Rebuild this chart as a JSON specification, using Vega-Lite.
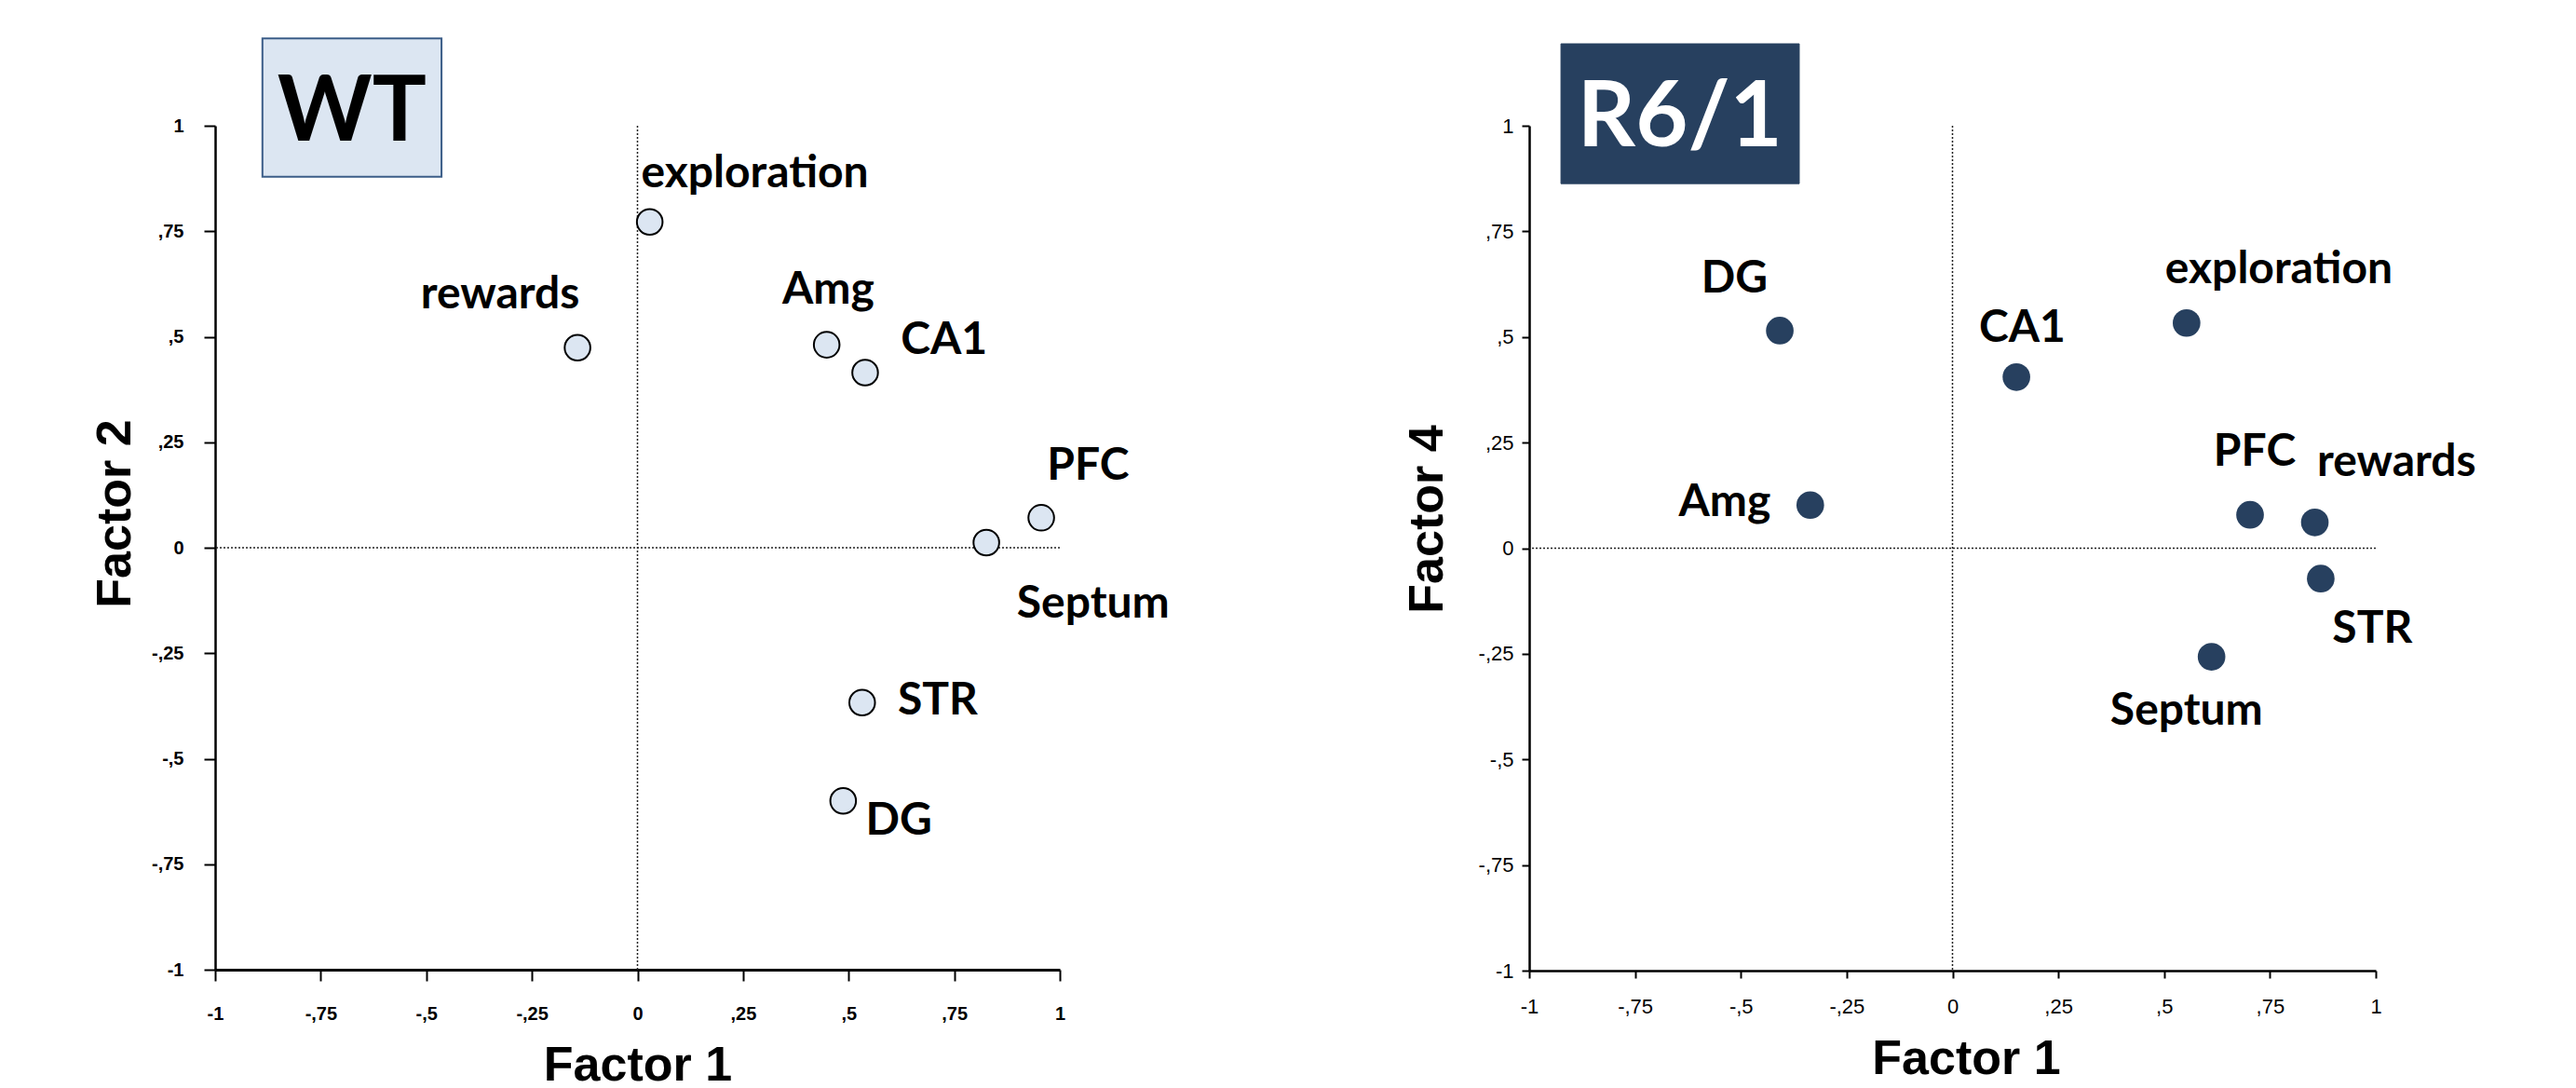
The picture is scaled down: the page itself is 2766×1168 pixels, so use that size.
{
  "$schema": "https://vega.github.io/schema/vega-lite/v6.json",
  "background": "white",
  "autosize": {"type": "pad"},
  "padding": {"left": 97, "top": 40, "right": 5, "bottom": 5},
  "spacing": 250,
  "config": {"view": {"stroke": null}, "font": "Liberation Sans"},
  "hconcat": [
    {
      "width": 907,
      "height": 906,
      "layer": [
        {
          "data": {"values": [{}]},
          "mark": {"type": "rule", "strokeDash": [2, 2], "color": "#222222", "strokeWidth": 1.5},
          "encoding": {"x": {"datum": 0, "type": "quantitative", "title": "Factor 1"}}
        },
        {
          "data": {"values": [{}]},
          "mark": {"type": "rule", "strokeDash": [2, 2], "color": "#222222", "strokeWidth": 1.5},
          "encoding": {"y": {"datum": 0, "type": "quantitative", "title": "Factor 2"}}
        },
        {
          "data": {"values": [{}]},
          "mark": {"type": "rect", "fill": "#dce6f2", "stroke": "#3b5d88", "strokeWidth": 2},
          "encoding": {
            "x": {"datum": -0.888, "type": "quantitative", "title": "Factor 1"},
            "x2": {"datum": -0.464},
            "y": {"datum": 1.207, "type": "quantitative", "title": "Factor 2"},
            "y2": {"datum": 0.879}
          }
        },
        {
          "data": {"values": [{}]},
          "mark": {"type": "text", "text": "WT", "font": "Lato", "fontWeight": "bold", "fontSize": 97, "align": "center", "baseline": "alphabetic", "color": "black"},
          "encoding": {
            "x": {"datum": -0.676, "type": "quantitative", "title": "Factor 1"},
            "y": {"datum": 0.965, "type": "quantitative", "title": "Factor 2"}
          }
        },
        {
          "data": {"values": [
            {"label": "exploration", "f1": 0.029, "f2": 0.772, "lx": 0.278, "ly": 0.886},
            {"label": "rewards", "f1": -0.142, "f2": 0.474, "lx": -0.325, "ly": 0.598},
            {"label": "Amg", "f1": 0.448, "f2": 0.481, "lx": 0.452, "ly": 0.609},
            {"label": "CA1", "f1": 0.539, "f2": 0.415, "lx": 0.726, "ly": 0.491},
            {"label": "PFC", "f1": 0.956, "f2": 0.071, "lx": 1.067, "ly": 0.191},
            {"label": "Septum", "f1": 0.826, "f2": 0.012, "lx": 1.079, "ly": -0.135},
            {"label": "STR", "f1": 0.532, "f2": -0.367, "lx": 0.711, "ly": -0.365},
            {"label": "DG", "f1": 0.487, "f2": -0.6, "lx": 0.619, "ly": -0.649}
          ]},
          "layer": [
            {
              "mark": {"type": "point", "shape": "circle", "filled": true, "fill": "#dce6f2", "stroke": "black", "strokeWidth": 2, "size": 760, "opacity": 1},
              "encoding": {
                "x": {"field": "f1", "type": "quantitative", "title": "Factor 1",
                  "scale": {"domain": [-1, 1], "nice": false, "zero": false},
                  "axis": {"values": [-1, -0.75, -0.5, -0.25, 0, 0.25, 0.5, 0.75, 1],
                    "labelExpr": "(datum.value < 0 ? '-' : '') + replace(format(abs(datum.value), '.2~f'), '0.', ',')",
                    "grid": false, "labelOverlap": false, "labelFlush": false,
                    "labelFont": "Liberation Sans", "labelFontWeight": "bold", "labelFontSize": 20, "labelColor": "black",
                    "labelPadding": 25, "tickSize": 12, "tickWidth": 2, "tickColor": "black",
                    "domainColor": "black", "domainWidth": 3,
                    "titleFont": "Liberation Sans", "titleFontSize": 52, "titleFontWeight": "bold", "titleColor": "black", "titlePadding": 20}
                },
                "y": {"field": "f2", "type": "quantitative", "title": "Factor 2",
                  "scale": {"domain": [-1, 1], "nice": false, "zero": false},
                  "axis": {"values": [-1, -0.75, -0.5, -0.25, 0, 0.25, 0.5, 0.75, 1],
                    "labelExpr": "(datum.value < 0 ? '-' : '') + replace(format(abs(datum.value), '.2~f'), '0.', ',')",
                    "grid": false, "labelOverlap": false, "labelFlush": false,
                    "labelFont": "Liberation Sans", "labelFontWeight": "bold", "labelFontSize": 20, "labelColor": "black",
                    "labelPadding": 22, "tickSize": 12, "tickWidth": 2, "tickColor": "black",
                    "domainColor": "black", "domainWidth": 2.5,
                    "titleFont": "Liberation Sans", "titleFontSize": 52, "titleFontWeight": "bold", "titleColor": "black", "titlePadding": 12, "titleY": 416}
                }
              }
            },
            {
              "mark": {"type": "text", "font": "Lato", "fontWeight": "bold", "fontSize": 48, "align": "center", "baseline": "middle", "color": "black"},
              "encoding": {
                "x": {"field": "lx", "type": "quantitative", "title": "Factor 1"},
                "y": {"field": "ly", "type": "quantitative", "title": "Factor 2"},
                "text": {"field": "label"}
              }
            }
          ]
        }
      ]
    },
    {
      "width": 909,
      "height": 907,
      "layer": [
        {
          "data": {"values": [{}]},
          "mark": {"type": "rule", "strokeDash": [2, 2], "color": "#222222", "strokeWidth": 1.5},
          "encoding": {"x": {"datum": 0, "type": "quantitative", "title": "Factor 1"}}
        },
        {
          "data": {"values": [{}]},
          "mark": {"type": "rule", "strokeDash": [2, 2], "color": "#222222", "strokeWidth": 1.5},
          "encoding": {"y": {"datum": 0, "type": "quantitative", "title": "Factor 4"}}
        },
        {
          "data": {"values": [{}]},
          "mark": {"type": "rect", "fill": "#27405f", "stroke": "#27405f", "strokeWidth": 1},
          "encoding": {
            "x": {"datum": -0.925, "type": "quantitative", "title": "Factor 1"},
            "x2": {"datum": -0.362},
            "y": {"datum": 1.194, "type": "quantitative", "title": "Factor 4"},
            "y2": {"datum": 0.863}
          }
        },
        {
          "data": {"values": [{}]},
          "mark": {"type": "text", "text": "R6/1", "font": "Lato", "fontWeight": "bold", "fontSize": 97, "align": "center", "baseline": "alphabetic", "color": "white"},
          "encoding": {
            "x": {"datum": -0.644, "type": "quantitative", "title": "Factor 1"},
            "y": {"datum": 0.951, "type": "quantitative", "title": "Factor 4"}
          }
        },
        {
          "data": {"values": [
            {"label": "DG", "f1": -0.408, "f4": 0.515, "lx": -0.515, "ly": 0.637},
            {"label": "Amg", "f1": -0.336, "f4": 0.102, "lx": -0.538, "ly": 0.107},
            {"label": "CA1", "f1": 0.151, "f4": 0.405, "lx": 0.165, "ly": 0.519},
            {"label": "exploration", "f1": 0.553, "f4": 0.533, "lx": 0.771, "ly": 0.658},
            {"label": "PFC", "f1": 0.703, "f4": 0.079, "lx": 0.714, "ly": 0.226},
            {"label": "rewards", "f1": 0.856, "f4": 0.061, "lx": 1.049, "ly": 0.201},
            {"label": "STR", "f1": 0.87, "f4": -0.072, "lx": 0.992, "ly": -0.194},
            {"label": "Septum", "f1": 0.612, "f4": -0.257, "lx": 0.553, "ly": -0.387}
          ]},
          "layer": [
            {
              "mark": {"type": "point", "shape": "circle", "filled": true, "fill": "#27405f", "strokeWidth": 0, "size": 880, "opacity": 1},
              "encoding": {
                "x": {"field": "f1", "type": "quantitative", "title": "Factor 1",
                  "scale": {"domain": [-1, 1], "nice": false, "zero": false},
                  "axis": {"values": [-1, -0.75, -0.5, -0.25, 0, 0.25, 0.5, 0.75, 1],
                    "labelExpr": "(datum.value < 0 ? '-' : '') + replace(format(abs(datum.value), '.2~f'), '0.', ',')",
                    "grid": false, "labelOverlap": false, "labelFlush": false,
                    "labelFont": "Liberation Sans", "labelFontWeight": "normal", "labelFontSize": 22, "labelColor": "black",
                    "labelPadding": 20, "tickSize": 8, "tickWidth": 2, "tickColor": "black",
                    "domainColor": "black", "domainWidth": 2.5,
                    "titleFont": "Liberation Sans", "titleFontSize": 52, "titleFontWeight": "bold", "titleColor": "black", "titlePadding": 20, "titleX": 469}
                },
                "y": {"field": "f4", "type": "quantitative", "title": "Factor 4",
                  "scale": {"domain": [-1, 1], "nice": false, "zero": false},
                  "axis": {"values": [-1, -0.75, -0.5, -0.25, 0, 0.25, 0.5, 0.75, 1],
                    "labelExpr": "(datum.value < 0 ? '-' : '') + replace(format(abs(datum.value), '.2~f'), '0.', ',')",
                    "grid": false, "labelOverlap": false, "labelFlush": false,
                    "labelFont": "Liberation Sans", "labelFontWeight": "normal", "labelFontSize": 22, "labelColor": "black",
                    "labelPadding": 9, "tickSize": 8, "tickWidth": 2, "tickColor": "black",
                    "domainColor": "black", "domainWidth": 2.5,
                    "titleFont": "Liberation Sans", "titleFontSize": 52, "titleFontWeight": "bold", "titleColor": "black", "titlePadding": 28, "titleY": 422}
                }
              }
            },
            {
              "mark": {"type": "text", "font": "Lato", "fontWeight": "bold", "fontSize": 48, "align": "center", "baseline": "middle", "color": "black"},
              "encoding": {
                "x": {"field": "lx", "type": "quantitative", "title": "Factor 1"},
                "y": {"field": "ly", "type": "quantitative", "title": "Factor 4"},
                "text": {"field": "label"}
              }
            }
          ]
        }
      ]
    }
  ]
}
